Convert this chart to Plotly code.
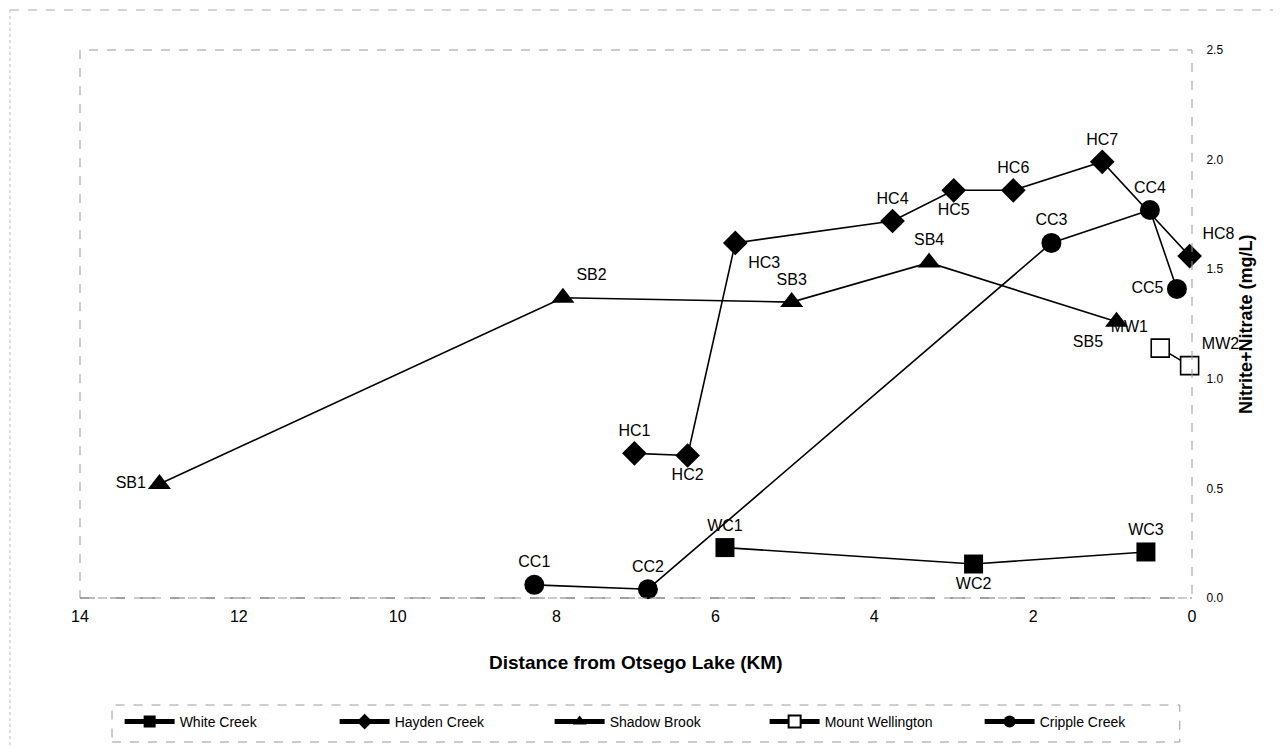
import plotly.graph_objects as go

# ---- data (distance from Otsego Lake in km, Nitrite+Nitrate mg/L) ----
wc_labels = ["WC1", "WC2", "WC3"]
wc_km = [5.88, 2.75, 0.58]
wc_val = [0.23, 0.155, 0.21]

hc_labels = ["HC1", "HC2", "HC3", "HC4", "HC5", "HC6", "HC7", "HC8"]
hc_km = [7.02, 6.35, 5.75, 3.77, 3.00, 2.25, 1.13, 0.03]
hc_val = [0.66, 0.65, 1.62, 1.72, 1.86, 1.86, 1.99, 1.56]

sb_labels = ["SB1", "SB2", "SB3", "SB4", "SB5"]
sb_km = [13.0, 7.92, 5.04, 3.31, 0.95]
sb_val = [0.52, 1.37, 1.35, 1.53, 1.26]

mw_labels = ["MW1", "MW2"]
mw_km = [0.40, 0.03]
mw_val = [1.14, 1.06]

cc_labels = ["CC1", "CC2", "CC3", "CC4", "CC5"]
cc_km = [8.28, 6.85, 1.77, 0.53, 0.19]
cc_val = [0.06, 0.04, 1.62, 1.77, 1.41]

x_ticks = [14, 12, 10, 8, 6, 4, 2, 0]
y_ticks = [0.0, 0.5, 1.0, 1.5, 2.0, 2.5]

FONT = "Liberation Sans, Arial, sans-serif"
LBL = dict(family=FONT, size=16, color="black")

fig = go.Figure()


def add(name, xs, ys, labels, symbol, size, positions, fill="black", lw=0):
    fig.add_trace(go.Scatter(
        x=xs, y=ys, name=name, mode="lines+markers+text",
        text=labels, textposition=positions, textfont=LBL,
        line=dict(color="black", width=1.6),
        marker=dict(symbol=symbol, size=size, color=fill,
                    line=dict(color="black", width=lw)),
        cliponaxis=False,
    ))


add("White Creek", wc_km, wc_val, wc_labels, "square", 19,
    ["top center", "bottom center", "top center"])
add("Hayden Creek", hc_km, hc_val, hc_labels, "diamond", 19,
    ["top center", "bottom center", "bottom right", "top center",
     "bottom center", "top center", "top center", "top right"])
add("Shadow Brook", sb_km, sb_val, sb_labels, "triangle-up", 20,
    ["middle left", "top right", "top center", "top center", "bottom left"])
add("Mount Wellington", mw_km, mw_val, mw_labels, "square", 18,
    ["top left", "top right"], fill="white", lw=1.6)
add("Cripple Creek", cc_km, cc_val, cc_labels, "circle", 20,
    ["top center", "top center", "top center", "top center", "middle left"])

# page body has an 8px margin; size the figure so the plot lands where the reference has it
fig.update_layout(
    width=1273, height=739,
    margin=dict(l=72, r=89, t=42, b=149, autoexpand=False),
    paper_bgcolor="white", plot_bgcolor="white",
    font=dict(family=FONT, color="black"),
    showlegend=True,
    legend=dict(
        orientation="h", x=0.519, xanchor="center",
        y=-0.2263, yanchor="middle",
        bgcolor="rgba(0,0,0,0)", borderwidth=0,
        font=dict(family=FONT, size=14, color="black"),
        entrywidth=150, entrywidthmode="pixels",
        itemwidth=50, itemsizing="constant",
    ),
    xaxis=dict(
        range=[14, 0], tickvals=x_ticks, ticktext=[str(v) for v in x_ticks],
        showgrid=False, zeroline=False, showline=False, automargin=False,
        ticks="outside", ticklen=4, tickcolor="rgba(0,0,0,0)",
        tickfont=dict(family=FONT, size=16, color="black"),
    ),
    yaxis=dict(
        range=[0, 2.5], tickvals=y_ticks, tickformat=".1f", side="right",
        showgrid=False, zeroline=False, showline=False, automargin=False,
        ticks="outside", ticklen=11, tickcolor="rgba(0,0,0,0)",
        tickfont=dict(family=FONT, size=12, color="black"),
    ),
    shapes=[
        # plot frame
        dict(type="rect", xref="paper", yref="paper", x0=0, x1=1, y0=0, y1=1,
             line=dict(color="#999", width=1, dash="dash")),
        dict(type="line", xref="paper", yref="paper", x0=0, x1=1,
             y0=0, y1=0, line=dict(color="#777", width=1.2, dash="longdash")),
        # outer chart border (top and left)
        dict(type="line", xref="paper", yref="paper", x0=-0.063, x1=1.08,
             y0=1.073, y1=1.073, line=dict(color="#aaa", width=1, dash="dash")),
        dict(type="line", xref="paper", yref="paper", x0=-0.063, x1=-0.063,
             y0=1.073, y1=-0.27, line=dict(color="#bbb", width=1, dash="dot")),
        # legend box
        dict(type="rect", xref="paper", yref="paper", x0=0.0288, x1=0.989,
             y0=-0.2628, y1=-0.1953, line=dict(color="#999", width=1, dash="dash")),
    ],
    annotations=[
        dict(text="<b>Distance from Otsego Lake (KM)</b>", xref="paper", yref="paper",
             x=0.5, y=-0.1168, xanchor="center", yanchor="middle", showarrow=False,
             font=dict(family=FONT, size=19, color="black")),
        dict(text="<b>Nitrite+Nitrate (mg/L)</b>", xref="paper", yref="paper",
             x=1, xshift=54, y=0.5, xanchor="center", yanchor="middle",
             textangle=-90, showarrow=False,
             font=dict(family=FONT, size=18, color="black")),
    ],
)

fig.write_html("out.html")
